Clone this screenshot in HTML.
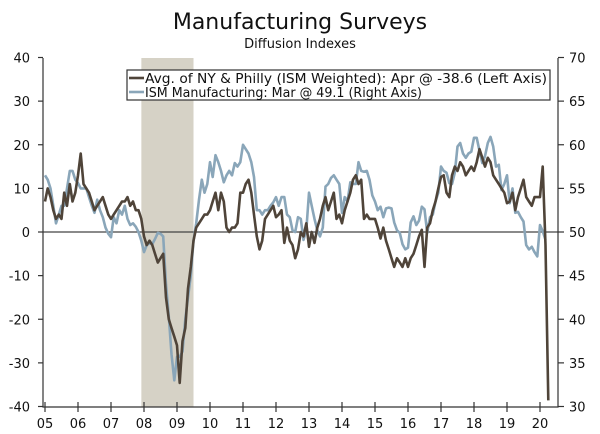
<!DOCTYPE html>
<html><head><meta charset="utf-8"><style>
html,body{margin:0;padding:0;background:#fff;}
svg{display:block;font-family:"DejaVu Sans","Liberation Sans",sans-serif;}
</style></head><body>
<svg id="chart" width="600" height="434" viewBox="0 0 600 434" xmlns="http://www.w3.org/2000/svg">
<text x="300" y="29" text-anchor="middle" font-size="22" fill="#111">Manufacturing Surveys</text>
<text x="300" y="48" text-anchor="middle" font-size="13" fill="#111">Diffusion Indexes</text>
<g id="plot"></g>
</svg>
<script>
const years = ["05","06","07","08","09","10","11","12","13","14","15","16","17","18","19","20"];
const leftTicks = [40,30,20,10,0,-10,-20,-30,-40];
const rightTicks = [70,65,60,55,50,45,40,35,30];
const recession = [2007.92, 2009.5];
const nyPhilly = [
7,10,8,5,3,4,3,9,6,11,7,9,
13,18,11,10,9,7,5,6,7,8,6,4,
3,4,5,6,7,7,8,6,7,5,5,3,
-1,-3,-2,-3,-5,-7,-6,-5,-15,-20,-22,-24,
-26,-34.6,-25,-22,-13,-8,-2,1,2,3,4,4,
5,7,9,5,9,7,1,0,1,1,2,9,
9,11,12,9,4,-1,-4,-2,3,4,5,6,
3.4,4,5,-2.5,1,-2,-3,-6,-4,0,-1,2,
-3.4,0,-2.5,1,3,6,8,5,7,9,3,4,
2,5,7,9,12,13,11,12,3,4,3,3,
3,1,-1.5,1,-2,-4,-6,-8,-6,-7,-8,-6,
-8,-6,-5,-3,-1,0.5,-8,1,2,5,7,10,
12.6,13,9,8,13,15,14,16,15,13,14,15,
14,16,19,17,15,17,16,13,12,11,10,9,
6.6,7,9,5,8,10,12,8,7,6,8,8,
8,15,-3,-38.6];
const ism = [
56.5,56,55,53,51,52,53,53,55,57,57,56,
55.6,55,55,55,54,53,52.2,53.7,52.5,51.7,50.5,49.8,
49.4,51.7,51,52.5,52,53,51.5,50.8,51,50.6,50,49,
47.7,48.5,48.7,48.6,49.2,49.9,49.8,49.5,44,40.3,36,33,
35.7,35.7,36.3,40,42.5,45,49,51,53.7,56,54.5,55.5,
58,56.3,58.8,58,57,55.7,56.5,57,56.5,57.9,57.5,58,
60,59.5,59,58,56.3,52.5,52.5,52,52.5,52.5,53,53.4,
54,53,54,54,52,51.7,50.2,50,51.7,51.5,49.1,50.2,
54.5,53,51.5,50.2,49.5,50.5,55.2,55.5,56.2,56.5,56,55.5,
52.2,54,53.5,55.7,55.5,55.5,58,57,56.9,57,56,54.2,
53.5,52.5,52.9,51.7,52.7,52.8,52.7,51.1,50.2,49.9,48.6,48,
48.2,51.1,51.8,50.8,51.3,52.9,52.6,49.9,51.7,52,53.5,54.5,
57.5,57,56.8,55.6,55.5,56.8,59.8,60.2,59,58.5,59,59.2,
60.8,60.8,59.3,57.9,58.7,60.2,60.9,59.8,57.5,57.7,54.8,55.5,
56.5,53.3,55,52.2,52.3,51.7,51.2,48.5,48,48.3,47.7,47.2,
50.8,50.1,49.1];

const NS="http://www.w3.org/2000/svg";
const g=document.getElementById('plot');
const X0=43,X1=558,Y0=58,Y1=407;
const xOf=t=>45+(t-2005)*33;
const yL=v=>232-(v)*(Y1-Y0)/80;
const yR=v=>232-(v-50)*(Y1-Y0)/40;
function mk(tag,attrs){const e=document.createElementNS(NS,tag);for(const k in attrs)e.setAttribute(k,attrs[k]);g.appendChild(e);return e;}

const sh=mk('rect',{x:xOf(recession[0]),y:Y0,width:xOf(recession[1])-xOf(recession[0]),height:Y1-Y0,fill:'#d6d2c6'});



const zl=mk('line',{x1:X0,x2:X1,y1:yL(0),y2:yL(0),stroke:'#444','stroke-width':1.3});



const ax=mk('path',{d:`M${X0},${Y0}V${Y1}H${X1}V${Y0}`,fill:'none',stroke:'#333','stroke-width':1.2});



leftTicks.forEach(v=>{
  const y=yL(v);
  const tk=mk('line',{x1:X0-5,x2:X0,y1:y,y2:y,stroke:'#333','stroke-width':1.2});
  
  
  const t=mk('text',{x:30,y:y+5,'text-anchor':'end','font-size':13,fill:'#111'});
  t.textContent=v;
  
  
});
rightTicks.forEach(v=>{
  const y=yR(v);
  const tk=mk('line',{x1:X1,x2:X1+6,y1:y,y2:y,stroke:'#333','stroke-width':1.2});
  
  
  const t=mk('text',{x:569,y:y+5,'text-anchor':'start','font-size':13,fill:'#111'});
  t.textContent=v;
  
  
});
years.forEach((lab,i)=>{
  const x=xOf(2005+i);
  const tk=mk('line',{x1:x,x2:x,y1:Y1-5,y2:Y1+5,stroke:'#333','stroke-width':1.2});
  
  
  const t=mk('text',{x:x,y:428,'text-anchor':'middle','font-size':13,fill:'#111'});
  t.textContent=lab;
  
  
});

function line(arr,yf,color){
  return arr.map((v,i)=>(i?'L':'M')+xOf(2005+i/12).toFixed(1)+','+yf(v).toFixed(1)).join('');
}
const pI=mk('path',{d:line(ism,yR),fill:'none',stroke:'#8aa6b9','stroke-width':2.6,'stroke-linejoin':'round'});


const pN=mk('path',{d:line(nyPhilly,yL),fill:'none',stroke:'#4f4439','stroke-width':2.6,'stroke-linejoin':'round'});



const lg=mk('rect',{x:127,y:70,width:423,height:30,fill:'#fff',stroke:'#333','stroke-width':1.2});


const l1=mk('line',{x1:129,x2:144,y1:78,y2:78,stroke:'#4f4439','stroke-width':2.6});


const t1=mk('text',{x:145,y:83,'font-size':13,fill:'#111',textLength:402,lengthAdjust:'spacingAndGlyphs'});
t1.textContent='Avg. of NY & Philly (ISM Weighted): Apr @ -38.6  (Left Axis)';


const l2=mk('line',{x1:129,x2:144,y1:92,y2:92,stroke:'#8aa6b9','stroke-width':2.6});


const t2=mk('text',{x:145,y:97,'font-size':13,fill:'#111',textLength:277,lengthAdjust:'spacingAndGlyphs'});
t2.textContent='ISM Manufacturing: Mar @ 49.1 (Right Axis)';


</script>
</body></html>
